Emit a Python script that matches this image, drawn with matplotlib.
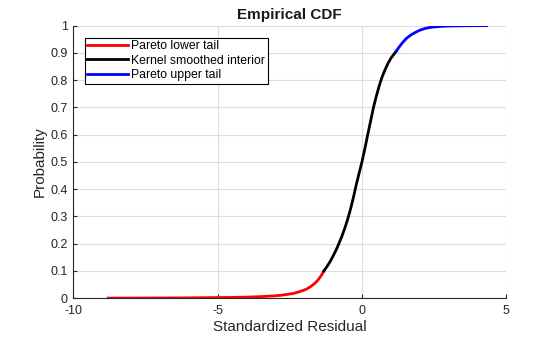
import matplotlib.pyplot as plt

plt.rcParams['font.family'] = ['Liberation Sans', 'DejaVu Sans']
plt.rcParams['axes.unicode_minus'] = False

# lower tail (Pareto)
x_lower = [-8.79, -8.0, -7.0, -6.0, -5.0, -4.5, -4.0, -3.5, -3.0, -2.8, -2.6, -2.4, -2.2, -2.0,
           -1.9, -1.8, -1.7, -1.6, -1.5, -1.4, -1.32]
p_lower = [0.0005, 0.0007, 0.001, 0.0015, 0.0025, 0.003, 0.004, 0.006, 0.009, 0.011, 0.014, 0.017,
           0.023, 0.030, 0.035, 0.041, 0.049, 0.058, 0.070, 0.085, 0.10]

# kernel smoothed interior
x_mid = [-1.32, -1.2, -1.1, -1.0, -0.9, -0.8, -0.7, -0.6, -0.5, -0.4, -0.3, -0.2, -0.1, 0.0,
         0.1, 0.2, 0.3, 0.4, 0.5, 0.6, 0.7, 0.8, 0.9, 1.0, 1.1, 1.18]
p_mid = [0.10, 0.118, 0.135, 0.155, 0.176, 0.20, 0.226, 0.255, 0.288, 0.325, 0.368, 0.415, 0.458, 0.50,
         0.548, 0.60, 0.65, 0.70, 0.742, 0.78, 0.812, 0.838, 0.861, 0.880, 0.894, 0.905]

# upper tail (Pareto)
x_upper = [1.18, 1.25, 1.35, 1.45, 1.55, 1.7, 1.85, 2.0, 2.2, 2.4, 2.6, 2.8, 3.0, 3.5, 4.0, 4.32]
p_upper = [0.905, 0.916, 0.930, 0.943, 0.954, 0.966, 0.975, 0.983, 0.990, 0.994, 0.996, 0.9975,
           0.9985, 0.9995, 0.9999, 1.0]

fig = plt.figure(figsize=(5.6, 3.37), dpi=100)
ax = fig.add_axes([0.131, 0.115, 0.773, 0.809])

ax.plot(x_lower, p_lower, color='red', linewidth=2, label='Pareto lower tail', solid_joinstyle='round')
ax.plot(x_mid, p_mid, color='black', linewidth=2, label='Kernel smoothed interior', solid_joinstyle='round')
ax.plot(x_upper, p_upper, color='blue', linewidth=2, label='Pareto upper tail', solid_joinstyle='round')

ax.set_xlim(-10, 5)
ax.set_ylim(0, 1)
ax.set_xticks([-10, -5, 0, 5])
ax.set_yticks([i / 10 for i in range(11)])
ax.set_yticklabels(['0', '0.1', '0.2', '0.3', '0.4', '0.5', '0.6', '0.7', '0.8', '0.9', '1'])
ax.grid(True, color='#dcdcdc', linewidth=0.8)
ax.set_axisbelow(True)
for s in ['top', 'right']:
    ax.spines[s].set_visible(False)
for s in ['left', 'bottom']:
    ax.spines[s].set_color('#262626')
ax.tick_params(direction='in', length=3, labelsize=9, colors='#262626')
ax.tick_params(axis='x', pad=5)
ax.tick_params(axis='y', pad=4)

ax.set_xlabel('Standardized Residual', fontsize=11, color='#262626', labelpad=2)
ax.set_ylabel('Probability', fontsize=11, color='#262626', labelpad=3)
ax.set_title('Empirical CDF', fontsize=11, fontweight='bold', color='#1a1a1a', pad=5)

leg = ax.legend(loc='upper left', bbox_to_anchor=(0.027, 0.955), fontsize=8.8, fancybox=False,
                framealpha=1, edgecolor='black', borderpad=0.2, labelspacing=0.2,
                handlelength=3.3, handletextpad=0.3, borderaxespad=0)
leg.get_frame().set_linewidth(0.8)

fig.savefig('out.png', dpi=100)
